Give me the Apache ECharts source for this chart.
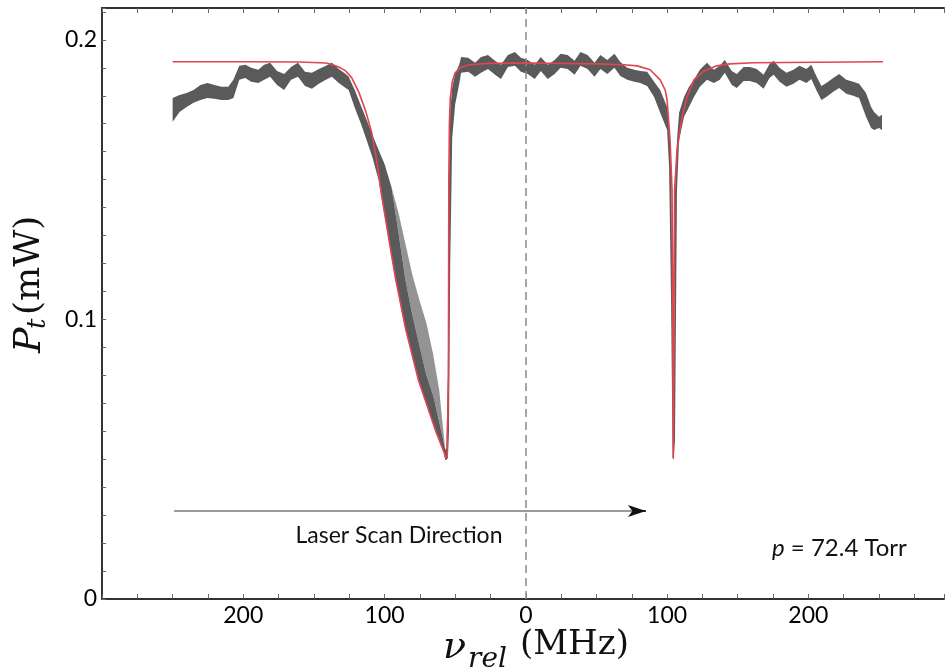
<!DOCTYPE html>
<html><head><meta charset="utf-8">
<script src="https://cdn.jsdelivr.net/npm/echarts@6/dist/echarts.min.js"></script>
<style>html,body{margin:0;padding:0;background:#fff}#c{width:947px;height:672px}</style>
</head><body><div id="c"></div>
<script>
// measured transmitted power band (lower / upper envelope of the scattered data), MHz vs mW
const bandX = [-250.0,-245.1,-240.1,-235.2,-230.3,-225.4,-220.4,-215.5,-210.6,-207.0,-202.8,-198.6,-194.4,-189.4,-185.2,-181.0,-176.1,-171.1,-166.2,-161.3,-156.3,-151.4,-146.5,-141.5,-137.3,-132.4,-127.5,-125.4,-121.1,-116.9,-112.7,-108.5,
 -104.2,-100.0,-95.1,-90.1,-85.2,-80.3,-75.4,-70.4,-65.5,-61.3,-58.5,-57.0,
 -56.3,-55.2,-54.4,-53.5,-52.1,-50.0,-47.2,
 -45.8,-40.8,-35.9,-31.7,-26.8,-21.8,-17.6,-12.7,-7.7,-3.5,1.4,6.3,10.6,15.5,20.4,24.6,29.6,34.5,38.7,43.7,48.6,52.8,57.7,62.7,66.9,71.8,76.8,81.0,85.9,90.8,95.1,100.0,101.4,102.8,103.9,104.6,105.6,107.0,108.5,
 112.0,115.5,119.0,123.2,128.2,133.1,137.3,140.8,145.8,149.3,154.2,158.5,163.4,168.3,172.5,175.4,179.6,184.5,189.4,193.7,198.6,202.1,205.6,209.2,212.7,217.6,221.8,226.8,231.7,235.9,240.8,244.4,246.5,250.0,252.1];
const bandLo = [0.1707,0.1742,0.1760,0.1775,0.1785,0.1792,0.1789,0.1785,0.1785,0.1792,0.1857,0.1864,0.1850,0.1846,0.1857,0.1868,0.1839,0.1821,0.1857,0.1868,0.1835,0.1825,0.1843,0.1857,0.1868,0.1846,0.1828,0.1821,0.1757,0.1703,0.1642,0.1578,
 0.1499,0.1373,0.1227,0.1088,0.0962,0.0866,0.0773,0.0699,0.0626,0.0565,0.0533,0.0497,
 0.0497,0.0504,0.0600,0.1200,0.1650,0.1770,0.1840,
 0.1882,0.1886,0.1868,0.1882,0.1896,0.1875,0.1860,0.1903,0.1907,0.1886,0.1878,0.1860,0.1889,0.1860,0.1878,0.1900,0.1896,0.1875,0.1907,0.1896,0.1868,0.1896,0.1878,0.1900,0.1871,0.1857,0.1850,0.1846,0.1835,0.1796,0.1739,0.1678,0.1546,0.1070,0.0504,0.0497,0.0569,0.1463,0.1642,
 0.1725,0.1760,0.1796,0.1832,0.1857,0.1846,0.1857,0.1882,0.1839,0.1828,0.1853,0.1853,0.1846,0.1825,0.1864,0.1875,0.1850,0.1832,0.1843,0.1857,0.1846,0.1860,0.1821,0.1785,0.1796,0.1814,0.1828,0.1807,0.1800,0.1792,0.1725,0.1685,0.1678,0.1685,0.1678];
const bandHi = [0.1792,0.1803,0.1810,0.1821,0.1839,0.1846,0.1839,0.1832,0.1832,0.1857,0.1907,0.1911,0.1900,0.1893,0.1911,0.1918,0.1889,0.1878,0.1903,0.1918,0.1886,0.1882,0.1896,0.1907,0.1918,0.1896,0.1878,0.1868,0.1821,0.1767,0.1714,0.1660,
 0.1606,0.1556,0.1474,0.1309,0.1141,0.1016,0.0909,0.0801,0.0726,0.0633,0.0569,0.0533,
 0.0540,0.0800,0.1500,0.1750,0.1830,0.1880,0.1910,
 0.1939,0.1936,0.1918,0.1939,0.1946,0.1925,0.1911,0.1946,0.1957,0.1936,0.1928,0.1911,0.1939,0.1911,0.1928,0.1950,0.1946,0.1925,0.1957,0.1946,0.1918,0.1946,0.1928,0.1950,0.1921,0.1900,0.1893,0.1889,0.1886,0.1850,0.1821,0.1760,0.1703,0.1571,0.1070,0.0569,0.1463,0.1642,0.1739,
 0.1796,0.1832,0.1857,0.1893,0.1918,0.1893,0.1907,0.1928,0.1889,0.1878,0.1903,0.1903,0.1896,0.1875,0.1914,0.1925,0.1900,0.1882,0.1893,0.1907,0.1896,0.1911,0.1871,0.1835,0.1846,0.1864,0.1878,0.1857,0.1850,0.1843,0.1810,0.1760,0.1742,0.1725,0.1732];
// sparse scattered points right of the fit on the steep wing
const haloX  = [-95.1,-90.1,-85.2,-80.3,-75.4,-70.4,-65.5,-61.3,-58.5,-57.0];
const haloLo = [0.1474,0.1309,0.1141,0.1016,0.0909,0.0801,0.0726,0.0633,0.0569,0.0533];
const haloHi = [0.1474,0.1381,0.1270,0.1159,0.1070,0.0987,0.0873,0.0748,0.0605,0.0533];
// fitted curve
const fitX = [-250,-200,-160,-141.5,-137.3,-132.4,-127.5,-123.2,-118.3,-113.4,-109.2,-105.6,-102.1,-97.2,-92.3,-85.2,-76.1,-64.1,-57.7,-56.7,-55.6,-54.8,-54.5,-54.1,-53.5,-52.1,-50.0,-46.5,-40.8,-26.8,1.4,50.7,69.7,78.9,88.0,95.1,98.6,100.0,102.1,103.5,104.0,104.4,104.8,105.3,107.0,110.6,114.1,119.0,126.1,135.2,144.4,161.3,252.8];
const fitY = [0.1922,0.1922,0.1921,0.1917,0.1912,0.1903,0.1889,0.1864,0.1814,0.1746,0.1671,0.1571,0.1445,0.1295,0.1148,0.0970,0.0784,0.0605,0.0522,0.0504,0.0515,0.0800,0.1500,0.1700,0.1789,0.1850,0.1882,0.1900,0.1910,0.1916,0.1917,0.1914,0.1911,0.1907,0.1893,0.1857,0.1821,0.1785,0.1642,0.1463,0.1000,0.0504,0.1000,0.1463,0.1606,0.1724,0.1796,0.1857,0.1889,0.1907,0.1914,0.1918,0.1922];
const arrowFrom = [-249, 0.0315];
const arrowTo = [85, 0.0315];

const chart = echarts.init(document.getElementById('c'), null, {renderer: 'canvas'});

function bandSeries(xs, lo, hi, color, z) {
  return {
    type: 'custom', z: z, silent: true, animation: false,
    data: xs.map((x, i) => [x, lo[i], hi[i]]),
    encode: {x: 0, y: [1, 2]},
    renderItem: function (params, api) {
      if (params.dataIndex !== 0) return null;
      const pts = [];
      for (let i = 0; i < xs.length; i++) pts.push(api.coord([xs[i], hi[i]]));
      for (let i = xs.length - 1; i >= 0; i--) pts.push(api.coord([xs[i], lo[i]]));
      return {type: 'polygon', shape: {points: pts}, style: {fill: color}};
    }
  };
}

const axisLineStyle = {color: '#333', width: 2};
const xFmt = v => {
  const a = Math.abs(Math.round(v));
  return (a % 100 === 0 && a <= 200 && Math.abs(v - Math.round(v)) < 1e-6) ? String(a) : '';
};
const yFmt = v => {
  const r = Math.round(v * 1000) / 1000;
  if (Math.abs(r * 10 - Math.round(r * 10)) < 1e-9 && r <= 0.2 + 1e-9) return r === 0 ? '0' : r.toFixed(1);
  return '';
};
const lbl = {fontFamily: 'Lato', fontSize: 23, color: '#000'};

chart.setOption({
  animation: false,
  backgroundColor: '#fff',
  grid: {left: 102, right: 0, top: 8, bottom: 73},
  xAxis: [
    {type: 'value', min: -300, max: 296, interval: 25, position: 'bottom',
     axisLine: {show: true, onZero: false, lineStyle: axisLineStyle},
     axisTick: {show: true, inside: true, length: 5, lineStyle: {color: '#666'}},
     axisLabel: Object.assign({formatter: xFmt, margin: 5}, lbl),
     splitLine: {show: false}},
    {type: 'value', min: -300, max: 296, interval: 25, position: 'top',
     axisLine: {show: true, onZero: false, lineStyle: axisLineStyle},
     axisTick: {show: true, inside: true, length: 5, lineStyle: {color: '#666'}},
     axisLabel: {show: false}, splitLine: {show: false}}
  ],
  yAxis: {type: 'value', min: 0, max: 0.2114, interval: 0.01,
     axisLine: {show: true, onZero: false, lineStyle: axisLineStyle},
     axisTick: {show: true, inside: true, length: 4, lineStyle: {color: '#666'}},
     axisLabel: Object.assign({formatter: yFmt, margin: 5}, lbl),
     splitLine: {show: false}},
  series: [
    bandSeries(haloX, haloLo, haloHi, '#939393', 2),
    bandSeries(bandX, bandLo, bandHi, '#5a5a5a', 3),
    {type: 'line', z: 5, symbol: 'none', showSymbol: false, animation: false, silent: true,
     data: fitX.map((x, i) => [x, fitY[i]]),
     lineStyle: {color: '#e2454f', width: 1.6},
     markLine: {silent: true, animation: false, symbol: 'none', label: {show: false},
       data: [
         {xAxis: 0, lineStyle: {color: '#8a8a8a', type: [8, 5], width: 1.5}},
         [{coord: arrowFrom, lineStyle: {color: '#7a7a7a', width: 1.5, type: 'solid'}, symbol: 'none'},
          {coord: arrowTo, symbol: 'none'}],
         [{coord: [arrowTo[0] - 6, arrowTo[1]], lineStyle: {color: '#111', width: 1.5, type: 'solid'}, symbol: 'none'},
          {coord: arrowTo, symbol: 'arrow', symbolSize: [9, 18]}]
       ]}}
  ],
  graphic: [
    {type: 'text', x: 399, y: 536, style: {text: 'Laser Scan Direction', font: '23px Lato', fill: '#111', textAlign: 'center', textVerticalAlign: 'middle', verticalAlign: 'middle'}},
    {type: 'text', x: 772, y: 548, style: {text: '{i|p} = 72.4 Torr', font: '24px Lato', fill: '#111', textAlign: 'left', textVerticalAlign: 'middle', verticalAlign: 'middle',
      rich: {i: {fontFamily: 'Lato', fontSize: 24, fontStyle: 'italic', fill: '#111'}}}},
    {type: 'text', x: 443, y: 648, style: {text: 'ν', font: 'italic 38px "DejaVu Serif"', fill: '#111', textAlign: 'left', textVerticalAlign: 'middle', verticalAlign: 'middle'}},
    {type: 'text', x: 468, y: 660, style: {text: 'rel', font: 'italic 28px "DejaVu Serif"', fill: '#111', textAlign: 'left', textVerticalAlign: 'middle', verticalAlign: 'middle'}},
    {type: 'text', x: 520, y: 645, style: {text: '(MHz)', font: '34px "DejaVu Serif"', fill: '#111', textAlign: 'left', textVerticalAlign: 'middle', verticalAlign: 'middle'}},
    {type: 'group', x: 0, y: 353, rotation: Math.PI / 2, children: [
      {type: 'text', x: 0, y: 30, style: {text: 'P', font: 'italic 38px "DejaVu Serif"', fill: '#111', textAlign: 'left', textVerticalAlign: 'middle', verticalAlign: 'middle'}},
      {type: 'text', x: 24, y: 38, style: {text: 't', font: 'italic 26px "DejaVu Serif"', fill: '#111', textAlign: 'left', textVerticalAlign: 'middle', verticalAlign: 'middle'}},
      {type: 'text', x: 38, y: 30, style: {text: '(mW)', font: '36px "DejaVu Serif"', fill: '#111', textAlign: 'left', textVerticalAlign: 'middle', verticalAlign: 'middle'}}
    ]}
  ]
});
</script></body></html>
